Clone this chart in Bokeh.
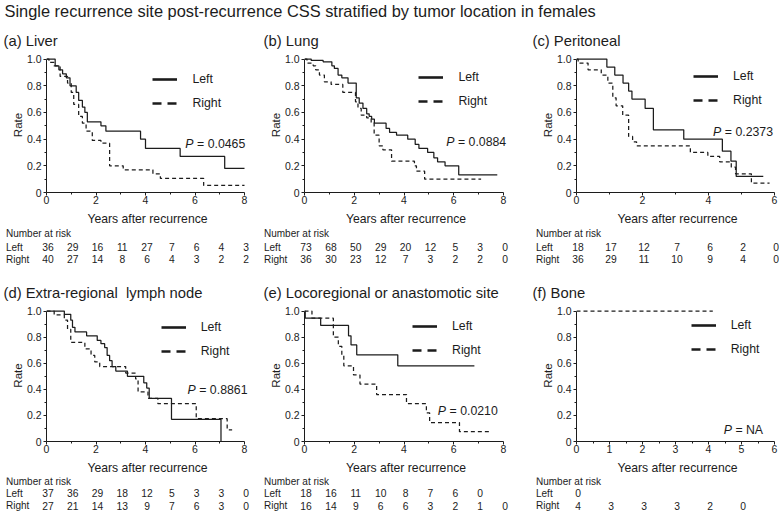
from bokeh.plotting import figure
from bokeh.layouts import column, row
from bokeh.models import Range1d, FixedTicker, Legend, LegendItem, Label
from bokeh.embed import file_html
from bokeh.resources import INLINE
from bokeh.core.properties import value

# ---------------- texts ----------------
TITLE = "Single recurrence site post-recurrence CSS stratified by tumor location in females"
LABELS = ["(a) Liver", "(b) Lung", "(c) Peritoneal",
          "(d) Extra-regional\u00a0 lymph node", "(e) Locoregional or anastomotic site", "(f) Bone"]
GROUPS = ["Left", "Right"]
X_TITLE = "Years after recurrence"
Y_TITLE = "Rate"
RISK_TITLE = "Number at risk"
P_VALUES = ["0.0465", "0.0884", "0.2373", "0.8861", "0.0210", "NA"]
X_MAX = [8, 8, 6, 8, 8, 6]

# ---------------- survival curves (time in years, survival rate) ----------------
a_left_time = [0, 0.35, 0.5, 0.65, 0.8, 0.95, 1.2, 1.3, 1.45, 1.55, 1.65, 2.2, 2.4, 3.8, 4.0, 5.4, 7.2, 8.0]
a_left_surv = [1.0, 0.95, 0.92, 0.89, 0.86, 0.80, 0.75, 0.69, 0.64, 0.60, 0.53, 0.50, 0.46, 0.40, 0.33, 0.27, 0.18, 0.18]
a_right_time = [0, 0.1, 0.3, 0.55, 0.85, 1.0, 1.1, 1.3, 1.45, 1.6, 1.85, 2.2, 2.55, 3.1, 4.3, 4.6, 6.35, 8.0]
a_right_surv = [1.0, 0.975, 0.95, 0.87, 0.82, 0.75, 0.66, 0.57, 0.52, 0.46, 0.39, 0.37, 0.20, 0.17, 0.14, 0.105, 0.053, 0.053]

b_left_time = [0, 0.27, 0.75, 1.1, 1.2, 1.35, 1.5, 1.75, 2.08, 2.2, 2.35, 2.5, 2.6, 2.7, 2.81, 3.28, 3.42, 3.7,
               4.15, 4.45, 4.6, 4.95, 5.2, 5.35, 5.65, 6.2, 7.75]
b_left_surv = [1.0, 0.99, 0.98, 0.95, 0.93, 0.88, 0.86, 0.82, 0.71, 0.67, 0.63, 0.59, 0.57, 0.55, 0.52, 0.48, 0.45, 0.43,
               0.40, 0.36, 0.33, 0.30, 0.26, 0.23, 0.20, 0.133, 0.133]
b_right_time = [0, 0.1, 0.35, 0.45, 0.6, 0.8, 1.07, 1.54, 2.05, 2.15, 2.28, 2.5, 2.68, 2.8, 3.0, 3.15, 3.5, 4.42, 4.5, 4.83, 7.1]
b_right_surv = [1.0, 0.97, 0.95, 0.92, 0.88, 0.83, 0.81, 0.75, 0.68, 0.63, 0.58, 0.56, 0.52, 0.43, 0.35, 0.32, 0.235, 0.20, 0.16, 0.10, 0.10]

c_left_time = [0, 0.92, 1.16, 1.41, 1.58, 1.68, 2.08, 2.33, 3.25, 4.42, 4.68, 4.84, 5.66]
c_left_surv = [1.0, 0.94, 0.88, 0.82, 0.76, 0.70, 0.63, 0.47, 0.40, 0.31, 0.235, 0.12, 0.12]
c_right_time = [0, 0.05, 0.35, 0.75, 0.95, 1.1, 1.2, 1.4, 1.58, 1.7, 1.82, 3.45, 3.98, 4.34, 4.69, 4.82, 5.3, 5.85]
c_right_surv = [1.0, 0.97, 0.92, 0.88, 0.82, 0.71, 0.65, 0.58, 0.42, 0.38, 0.35, 0.30, 0.27, 0.23, 0.19, 0.14, 0.07, 0.07]

d_left_time = [0, 0.72, 0.98, 1.05, 1.15, 1.62, 2.05, 2.2, 2.35, 2.45, 2.55, 2.65, 2.8, 3.27, 3.93, 4.05, 4.15, 5.05, 7.05]
d_left_surv = [1.0, 0.975, 0.93, 0.875, 0.84, 0.81, 0.775, 0.75, 0.72, 0.66, 0.62, 0.575, 0.54, 0.50, 0.45, 0.41, 0.33, 0.17, 0.0]
d_right_time = [0, 0.31, 0.72, 0.85, 0.98, 1.55, 1.8, 1.95, 2.15, 3.2, 3.6, 3.7, 4.1, 4.5, 6.05, 7.3, 7.5]
d_right_surv = [1.0, 0.97, 0.93, 0.86, 0.76, 0.71, 0.66, 0.61, 0.575, 0.525, 0.48, 0.38, 0.33, 0.29, 0.175, 0.09, 0.09]

e_left_time = [0, 0.03, 0.65, 1.77, 1.87, 2.1, 3.75, 6.83]
e_left_surv = [1.0, 0.945, 0.89, 0.81, 0.74, 0.665, 0.58, 0.58]
e_right_time = [0, 0.3, 1.16, 1.36, 1.5, 1.58, 1.97, 2.23, 2.9, 4.1, 4.9, 5.03, 6.23, 7.5]
e_right_surv = [1.0, 0.945, 0.80, 0.73, 0.66, 0.58, 0.51, 0.44, 0.36, 0.29, 0.22, 0.145, 0.075, 0.075]

f_left_time = []
f_left_surv = []
f_right_time = [0, 4.13]
f_right_surv = [1.0, 1.0]

# ---------------- numbers at risk (one value per year from 0) ----------------
a_risk_left = [36, 29, 16, 11, 27, 7, 6, 4, 3]
a_risk_right = [40, 27, 14, 8, 6, 4, 3, 2, 2]
b_risk_left = [73, 68, 50, 29, 20, 12, 5, 3, 0]
b_risk_right = [36, 30, 23, 12, 7, 3, 2, 2, 0]
c_risk_left = [18, 17, 12, 7, 6, 2, 0]
c_risk_right = [36, 29, 11, 10, 9, 4, 0]
d_risk_left = [37, 36, 29, 18, 12, 5, 3, 3, 0]
d_risk_right = [27, 21, 14, 13, 9, 7, 6, 3, 0]
e_risk_left = [18, 16, 11, 10, 8, 7, 6, 0]
e_risk_right = [16, 14, 9, 6, 6, 3, 2, 1, 0]
f_risk_left = [0]
f_risk_right = [4, 3, 3, 3, 2, 0]

CURVES = [
    (a_left_time, a_left_surv, a_right_time, a_right_surv),
    (b_left_time, b_left_surv, b_right_time, b_right_surv),
    (c_left_time, c_left_surv, c_right_time, c_right_surv),
    (d_left_time, d_left_surv, d_right_time, d_right_surv),
    (e_left_time, e_left_surv, e_right_time, e_right_surv),
    (f_left_time, f_left_surv, f_right_time, f_right_surv),
]
RISKS = [
    (a_risk_left, a_risk_right), (b_risk_left, b_risk_right), (c_risk_left, c_risk_right),
    (d_risk_left, d_risk_right), (e_risk_left, e_risk_right), (f_risk_left, f_risk_right),
]

# ---------------- layout / style ----------------
FONT = "Liberation Sans"
INK = "#1c1c1c"
TITLE_H = 22
COL_W = [260, 269, 250]
COL_BL = [46, 44, 47]
COL_BR = [16, 26, 5]          # space right of the x = xmax position
PAD_R = 4                     # frame extends this many px beyond xmax (axis itself stops at xmax)
ROW_BT = [35, 33]
ROW_FH = [136, 135]
ROW_BB = [35, 35]
TAB_H = [46, 34]
TAB_Y = [[5, 18.5, 30.5], [4, 15.5, 28]]
Y_TOP = 1.012
# legend: (px left of x = xmax, px below y = 1.0 of first item centre)
LEG = [(91.6, 21.5), (84.6, 19.5), (81, 18), (83.3, 19), (91, 18), (83.3, 17.5)]
# p-value label positions (data units)
P_POS = [(5.61, 0.36), (5.70, 0.378), (4.14, 0.453), (5.70, 0.393), (5.36, 0.236), (4.46, 0.092)]


def style_axis(ax, label_standoff, tick_standoff):
    ax.axis_line_color = INK
    ax.major_tick_line_color = INK
    ax.minor_tick_line_color = INK
    ax.major_tick_in = 0
    ax.major_tick_out = 3
    ax.minor_tick_in = 0
    ax.minor_tick_out = 2
    ax.major_label_standoff = tick_standoff
    ax.axis_label_standoff = label_standoff
    ax.major_label_text_font = FONT
    ax.major_label_text_font_size = "10.5px"
    ax.major_label_text_color = INK
    ax.axis_label_text_font = FONT
    ax.axis_label_text_font_style = "normal"
    ax.axis_label_text_color = INK


def make_panel(i):
    col, rw = i % 3, i // 3
    W, Bl, Br = COL_W[col], COL_BL[col], COL_BR[col]
    Bt, Fh, Bb = ROW_BT[rw], ROW_FH[rw], ROW_BB[rw]
    xmax = X_MAX[i]
    Fw = W - Bl - Br             # px from x = 0 to x = xmax
    s = Fw / xmax
    lt, ls, rt, rs = CURVES[i]

    p = figure(width=W, height=Bt + Fh + Bb, x_range=Range1d(0, xmax + PAD_R / s), y_range=Range1d(0, Y_TOP),
               output_backend="svg", toolbar_location=None,
               min_border_left=Bl, min_border_right=Br - PAD_R, min_border_top=Bt, min_border_bottom=Bb)
    p.frame_align = False
    p.outline_line_color = None
    p.grid.visible = False

    p.title.text = LABELS[i]
    p.title.align = "left"
    p.title.offset = -(Bl - 3)
    p.title.standoff = 17
    p.title.text_font = FONT
    p.title.text_font_size = "14.8px"
    p.title.text_font_style = "normal"
    p.title.text_color = INK

    if xmax == 8:
        p.xaxis.ticker = FixedTicker(ticks=[0, 2, 4, 6, 8], minor_ticks=[1, 3, 5, 7])
    elif i == 2:
        p.xaxis.ticker = FixedTicker(ticks=[0, 2, 4, 6], minor_ticks=[1, 3, 5])
    else:
        p.xaxis.ticker = FixedTicker(ticks=[0, 1, 2, 3, 4, 5, 6],
                                     minor_ticks=[0.5, 1.5, 2.5, 3.5, 4.5, 5.5])
    p.yaxis.ticker = FixedTicker(ticks=[0, 0.2, 0.4, 0.6, 0.8, 1.0],
                                 minor_ticks=[0.1, 0.3, 0.5, 0.7, 0.9])
    p.yaxis.major_label_overrides = {0: "0", 1: "1.0"}
    p.xaxis.bounds = (0, xmax)
    p.yaxis.bounds = (0, 1)
    p.xaxis.axis_label = X_TITLE
    p.yaxis.axis_label = Y_TITLE
    style_axis(p.xaxis[0], 5, 0)
    style_axis(p.yaxis[0], 0, 2)
    p.xaxis.axis_label_text_font_size = "12.2px"
    p.yaxis.axis_label_text_font_size = "11.5px"

    p.step(x=lt, y=ls, mode="after", line_color=INK, line_width=1.25)
    p.step(x=rt, y=rs, mode="after", line_color=INK, line_width=1.25, line_dash="4 3")

    # legend samples (placeholders so the legend draws heavier key lines)
    g_left = p.line(x=[float("nan")], y=[float("nan")], line_color=INK, line_width=2.6)
    g_right = p.line(x=[float("nan")], y=[float("nan")], line_color=INK, line_width=2.6, line_dash="9 6")
    dx, dy = LEG[i]
    y1_px = Fh * (1.0 / Y_TOP)
    box_h = 20 + 4 + 20
    vx = Fw - dx
    vy = y1_px - (dy - 10) - box_h
    legend = Legend(items=[LegendItem(label=GROUPS[0], renderers=[g_left]),
                           LegendItem(label=GROUPS[1], renderers=[g_right])],
                    location=(vx, vy), padding=0, margin=0, spacing=4,
                    glyph_width=25, glyph_height=20, label_height=20, label_standoff=15,
                    border_line_color=None, background_fill_alpha=0,
                    label_text_font=FONT, label_text_font_size="12.3px", label_text_color=INK)
    p.add_layout(legend)

    px, py = P_POS[i]
    p.add_layout(Label(x=px, y=py, text="P", text_font=FONT, text_font_size="12.3px",
                       text_font_style="italic", text_color=INK, text_baseline="middle", text_align="left"))
    p.add_layout(Label(x=px, y=py, x_offset=11.7, text="= " + P_VALUES[i], text_font=FONT,
                       text_font_size="12.3px", text_color=INK, text_baseline="middle", text_align="left"))

    # number-at-risk table, sharing the plot's horizontal scale
    Ht = TAB_H[rw]
    t = figure(width=W, height=Ht, x_range=Range1d(-Bl / s, xmax + Br / s), y_range=Range1d(Ht, 0),
               output_backend="svg", toolbar_location=None, min_border=0,
               x_axis_type=None, y_axis_type=None)
    t.frame_align = False
    t.outline_line_color = None
    t.grid.visible = False
    y0, yl, yr = TAB_Y[rw]
    xl = -40.5 / s
    t.text(x=[xl, xl, xl], y=[y0, yl, yr], text=[RISK_TITLE] + GROUPS, text_font=value(FONT),
           text_font_size="10px", text_color=INK, text_baseline="middle", text_align="left")
    rl, rr = RISKS[i]
    t.text(x=list(range(len(rl))), y=[yl] * len(rl), text=[str(v) for v in rl], x_offset=1.5,
           text_font=value(FONT), text_font_size="10.3px", text_color=INK,
           text_baseline="middle", text_align="center")
    t.text(x=list(range(len(rr))), y=[yr] * len(rr), text=[str(v) for v in rr], x_offset=1.5,
           text_font=value(FONT), text_font_size="10.3px", text_color=INK,
           text_baseline="middle", text_align="center")
    return column(p, t, spacing=0)


TW = sum(COL_W)
head = figure(width=TW, height=TITLE_H, x_range=Range1d(0, TW), y_range=Range1d(TITLE_H, 0),
              output_backend="svg", toolbar_location=None, min_border=0,
              x_axis_type=None, y_axis_type=None)
head.frame_align = False
head.outline_line_color = None
head.grid.visible = False
head.text(x=[4], y=[10], text=[TITLE], text_font=value(FONT), text_font_size="16.4px",
          text_color=INK, text_baseline="middle", text_align="left")

panels = [make_panel(i) for i in range(6)]
layout = column(head, row(*panels[:3], spacing=0), row(*panels[3:], spacing=0), spacing=0)

open("out.html", "w").write(file_html(layout, INLINE))
